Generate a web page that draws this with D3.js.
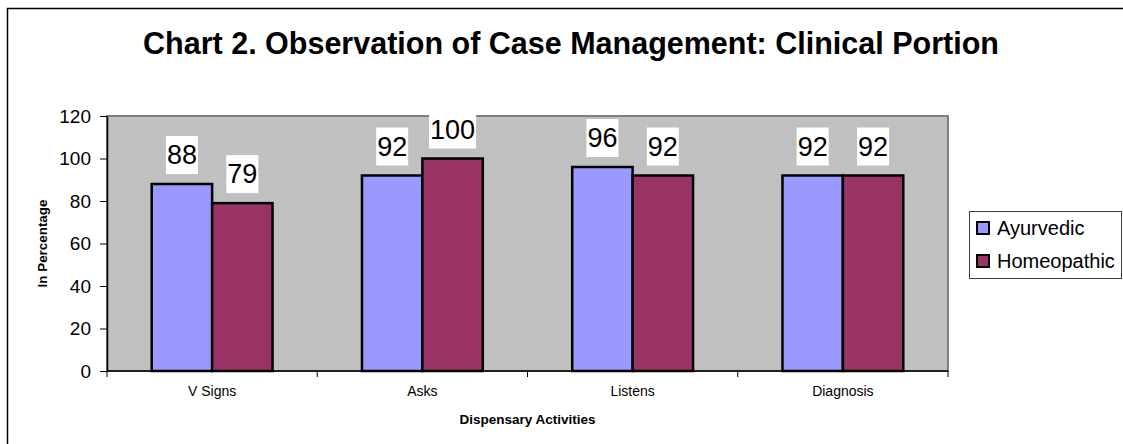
<!DOCTYPE html>
<html>
<head>
<meta charset="utf-8">
<script src="https://cdn.jsdelivr.net/npm/d3@7"></script>
<style>
  body { margin: 0; background: #fff; }
  svg { display: block; font-family: "Liberation Sans", Arial, sans-serif; }
</style>
</head>
<body>
<svg id="chart" width="1123" height="444"></svg>
<script>
const categories = ['V Signs', 'Asks', 'Listens', 'Diagnosis'];
const seriesNames = ['Ayurvedic', 'Homeopathic'];
const ayurvedic = [88, 92, 96, 92];
const homeopathic = [79, 100, 92, 92];
const yTicks = [0, 20, 40, 60, 80, 100, 120];
const colors = ['#9999FF', '#993366'];

const svg = d3.select('#chart');
const W = 1123, H = 444;

// outer frame (runs off the right and bottom edge)
svg.append('rect')
    .attr('x', 7.5).attr('y', 8.5)
    .attr('width', W + 20).attr('height', H + 20)
    .attr('fill', '#fff')
    .attr('stroke', '#000')
    .attr('stroke-width', 1.5);

// title
svg.append('text')
    .attr('x', 571).attr('y', 54)
    .attr('text-anchor', 'middle')
    .attr('font-size', '30.5px')
    .attr('font-weight', 'bold')
    .text('Chart 2. Observation of Case Management: Clinical Portion');

const plot = { left: 107, right: 948, top: 116, bottom: 371 };

const x0 = d3.scaleBand().domain(categories).range([plot.left, plot.right]).padding(0);
const x1 = d3.scaleBand().domain(seriesNames).range([0, x0.bandwidth()]).paddingInner(0).paddingOuter(0.74);
const y = d3.scaleLinear().domain([0, 120]).range([plot.bottom, plot.top]);

// plot background
svg.append('rect')
    .attr('x', plot.left).attr('y', plot.top)
    .attr('width', plot.right - plot.left).attr('height', plot.bottom - plot.top)
    .attr('fill', '#C0C0C0')
    .attr('stroke', '#808080')
    .attr('stroke-width', 2);

const data = categories.map((c, i) => ({ cat: c, values: [ayurvedic[i], homeopathic[i]] }));

const groups = svg.append('g').selectAll('g')
    .data(data)
    .enter()
    .append('g')
    .attr('transform', d => `translate(${x0(d.cat)},0)`);

groups.selectAll('rect')
    .data(d => d.values.map((v, k) => ({ name: seriesNames[k], v, k })))
    .enter()
    .append('rect')
    .attr('x', d => x1(d.name))
    .attr('y', d => y(d.v))
    .attr('width', x1.bandwidth())
    .attr('height', d => y(0) - y(d.v))
    .attr('fill', d => colors[d.k])
    .attr('stroke', '#000')
    .attr('stroke-width', 2.5);

// value labels with white boxes
const labels = groups.selectAll('g.lbl')
    .data(d => d.values.map((v, k) => ({ name: seriesNames[k], v, k })))
    .enter()
    .append('g')
    .attr('class', 'lbl')
    .attr('transform', d => `translate(${x1(d.name) + x1.bandwidth() / 2},${y(d.v) - 20})`);

labels.each(function(d) {
    const g = d3.select(this);
    const t = g.append('text')
        .attr('text-anchor', 'middle')
        .attr('font-size', '27px')
        .text(d.v);
    const w = t.node().getComputedTextLength() + 2;
    g.insert('rect', 'text')
        .attr('x', -w / 2).attr('y', -28)
        .attr('width', w).attr('height', 38)
        .attr('fill', '#fff');
});

// y axis
const yAxis = svg.append('g')
    .attr('transform', `translate(${plot.left},0)`)
    .call(d3.axisLeft(y).tickValues(yTicks).tickSize(7).tickPadding(9).tickSizeOuter(0));
yAxis.select('.domain').attr('stroke', '#000').attr('stroke-width', 1.5);
yAxis.selectAll('.tick line').attr('stroke', '#000');
yAxis.selectAll('.tick text')
    .attr('font-size', '19px')
    .attr('font-family', '"Liberation Sans", Arial, sans-serif')
    .attr('fill', '#000');

// x axis (ticks at category boundaries)
const xAxis = svg.append('g')
    .attr('transform', `translate(0,${plot.bottom})`);
xAxis.append('line')
    .attr('x1', plot.left).attr('x2', plot.right)
    .attr('stroke', '#000').attr('stroke-width', 1.5);
const bounds = categories.map(c => x0(c)).concat([plot.right]);
xAxis.selectAll('line.tk')
    .data(bounds)
    .enter()
    .append('line')
    .attr('class', 'tk')
    .attr('x1', d => d).attr('x2', d => d)
    .attr('y1', 0).attr('y2', 6)
    .attr('stroke', '#000');
xAxis.selectAll('text')
    .data(categories)
    .enter()
    .append('text')
    .attr('x', d => x0(d) + x0.bandwidth() / 2)
    .attr('y', 25)
    .attr('text-anchor', 'middle')
    .attr('font-size', '14px')
    .text(d => d);

// axis titles
svg.append('text')
    .attr('x', (plot.left + plot.right) / 2).attr('y', 424)
    .attr('text-anchor', 'middle')
    .attr('font-size', '13.5px')
    .attr('font-weight', 'bold')
    .text('Dispensary Activities');

svg.append('text')
    .attr('transform', `translate(47,${(plot.top + plot.bottom) / 2}) rotate(-90)`)
    .attr('text-anchor', 'middle')
    .attr('font-size', '13.4px')
    .attr('font-weight', 'bold')
    .text('In Percentage');

// legend
const legend = svg.append('g');
legend.append('rect')
    .attr('x', 969.5).attr('y', 211.5)
    .attr('width', 152).attr('height', 67)
    .attr('fill', '#fff')
    .attr('stroke', '#404040')
    .attr('stroke-width', 1);
const items = legend.selectAll('g.item')
    .data(seriesNames)
    .enter()
    .append('g')
    .attr('class', 'item')
    .attr('transform', (d, i) => `translate(977,${235 + i * 33})`);
items.append('rect')
    .attr('x', 0).attr('y', -13)
    .attr('width', 12).attr('height', 12)
    .attr('fill', (d, i) => colors[i])
    .attr('stroke', '#000')
    .attr('stroke-width', 2);
items.append('text')
    .attr('x', 20).attr('y', 0)
    .attr('font-size', '20px')
    .text(d => d);
</script>
</body>
</html>
